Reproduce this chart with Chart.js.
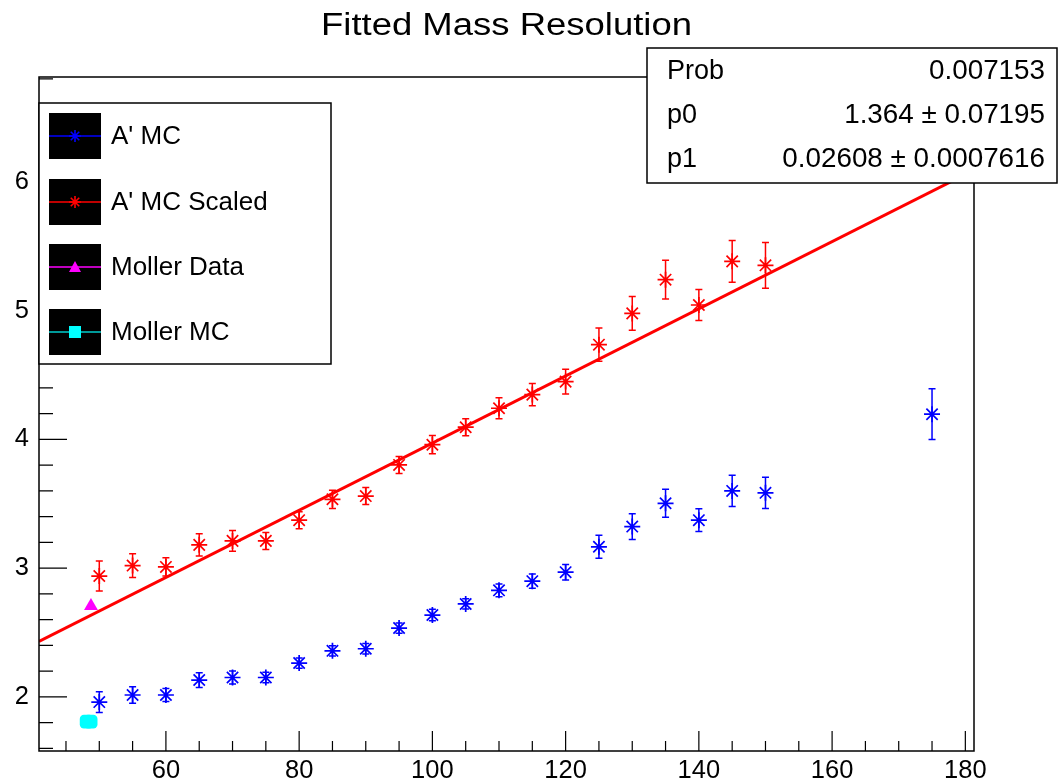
<!DOCTYPE html>
<html>
<head>
<meta charset="utf-8">
<title>Fitted Mass Resolution</title>
<script src="https://cdn.jsdelivr.net/npm/chart.js@4.4.1/dist/chart.umd.min.js"></script>
<style>
  html, body { margin: 0; padding: 0; background: #fff; }
  #wrap { width: 1061px; height: 784px; }
</style>
</head>
<body>
<div id="wrap"><canvas id="massChart" width="1061" height="784"></canvas></div>
<script>
// A' MC points (mass, fitted resolution, error)
const mcMass = [50, 55, 60, 65, 70, 75, 80, 85, 90, 95, 100, 105, 110, 115, 120, 125, 130, 135, 140, 145, 150, 175];
const mcRes = [1.96, 2.015, 2.015, 2.131, 2.151, 2.151, 2.263, 2.358, 2.374, 2.535, 2.636, 2.722, 2.828, 2.899, 2.969, 3.166, 3.323, 3.504, 3.373, 3.6, 3.585, 4.196];
const mcErr = [0.08, 0.065, 0.05, 0.057, 0.05, 0.04, 0.04, 0.04, 0.04, 0.04, 0.045, 0.04, 0.05, 0.055, 0.06, 0.089, 0.1, 0.109, 0.089, 0.121, 0.121, 0.197];

// A' MC scaled points
const scaledMass = [50, 55, 60, 65, 70, 75, 80, 85, 90, 95, 100, 105, 110, 115, 120, 125, 130, 135, 140, 145, 150];
const scaledRes = [2.939, 3.02, 3.01, 3.181, 3.212, 3.212, 3.373, 3.535, 3.56, 3.802, 3.959, 4.095, 4.242, 4.348, 4.449, 4.736, 4.979, 5.241, 5.044, 5.383, 5.352];
const scaledErr = [0.116, 0.093, 0.071, 0.086, 0.081, 0.066, 0.066, 0.071, 0.066, 0.066, 0.071, 0.066, 0.081, 0.086, 0.097, 0.129, 0.131, 0.151, 0.121, 0.162, 0.177];

// Moller points
const mollerDataMass = [48.75];
const mollerDataRes = [2.707];
const mollerMcMass = [48.1, 48.7];
const mollerMcRes = [1.808, 1.808];

// linear fit drawn across the frame
const fitMass = [40.95, 181.3];
const fitRes = [2.432, 6.092];

// axis ticks
const xTickValues = [60, 80, 100, 120, 140, 160, 180];
const yTickValues = [2, 3, 4, 5, 6];

// stats box rows
const statLabels = ['Prob', 'p0', 'p1'];
const statValues = ['0.007153', '1.364 \u00b1 0.07195', '0.02608 \u00b1 0.0007616'];

const legendLabels = ["A' MC", "A' MC Scaled", 'Moller Data', 'Moller MC'];

const FONT = "'Liberation Sans', Helvetica, Arial, sans-serif";

const toPoints = (xs, ys) => xs.map((x, i) => ({ x: x, y: ys[i] }));

// draws an asterisk like ROOT marker 3
function drawStar(ctx, x, y, r, color) {
    ctx.save();
    ctx.strokeStyle = color;
    ctx.lineWidth = 1.6;
    ctx.beginPath();
    for (let a = 0; a < 4; a++) {
        const ang = a * Math.PI / 4;
        ctx.moveTo(x - r * Math.cos(ang), y - r * Math.sin(ang));
        ctx.lineTo(x + r * Math.cos(ang), y + r * Math.sin(ang));
    }
    ctx.stroke();
    ctx.restore();
}

// text with a horizontal scale factor
function scaledText(ctx, text, x, y, align, sx) {
    const w = ctx.measureText(text).width * sx;
    let left = x;
    if (align === 'center') left = x - w / 2;
    if (align === 'right') left = x - w;
    ctx.save();
    ctx.textAlign = 'left';
    ctx.translate(left, y);
    ctx.scale(sx, 1);
    ctx.fillText(text, 0, 0);
    ctx.restore();
}

// error bars with small caps
const errorBarPlugin = {
    id: 'errorBars',
    beforeDatasetsDraw(chart) {
        const ctx = chart.ctx;
        const xs = chart.scales.x, ys = chart.scales.y;
        const sets = [
            { m: mcMass, v: mcRes, e: mcErr, c: '#0000ff' },
            { m: scaledMass, v: scaledRes, e: scaledErr, c: '#ff0000' }
        ];
        ctx.save();
        sets.forEach(s => {
            ctx.strokeStyle = s.c;
            ctx.lineWidth = 1.5;
            s.m.forEach((m, i) => {
                const px = xs.getPixelForValue(m);
                const top = ys.getPixelForValue(s.v[i] + s.e[i]);
                const bot = ys.getPixelForValue(s.v[i] - s.e[i]);
                ctx.beginPath();
                ctx.moveTo(px, top); ctx.lineTo(px, bot);
                ctx.moveTo(px - 3.5, top); ctx.lineTo(px + 3.5, top);
                ctx.moveTo(px - 3.5, bot); ctx.lineTo(px + 3.5, bot);
                ctx.stroke();
            });
        });
        ctx.restore();
    }
};

// frame, inside ticks, tick labels, title, legend and stats box
const decorPlugin = {
    id: 'decor',
    afterDraw(chart) {
        const ctx = chart.ctx;
        const area = chart.chartArea;
        const xs = chart.scales.x, ys = chart.scales.y;
        ctx.save();

        // frame
        ctx.strokeStyle = '#000';
        ctx.lineWidth = 1.5;
        ctx.strokeRect(area.left, area.top, area.right - area.left, area.bottom - area.top);

        // x ticks, pointing up from the bottom
        ctx.lineWidth = 1.2;
        ctx.beginPath();
        for (let v = 45; v <= 180; v += 5) {
            const px = xs.getPixelForValue(v);
            const len = v % 20 === 0 ? 20 : 10;
            ctx.moveTo(px, area.bottom);
            ctx.lineTo(px, area.bottom - len);
        }
        // y ticks, pointing right from the left edge
        for (let k = 8; k <= 34; k++) {
            const v = k / 5;
            const py = ys.getPixelForValue(v);
            const len = k % 5 === 0 ? 28 : 14;
            ctx.moveTo(area.left, py);
            ctx.lineTo(area.left + len, py);
        }
        ctx.stroke();

        // tick labels
        ctx.fillStyle = '#000';
        ctx.font = '25px ' + FONT;
        ctx.textBaseline = 'middle';
        xTickValues.forEach(v => {
            scaledText(ctx, String(v), xs.getPixelForValue(v), 771, 'center', 1.02);
        });
        yTickValues.forEach(v => {
            scaledText(ctx, String(v), 29, ys.getPixelForValue(v), 'right', 1.02);
        });

        // title
        ctx.font = '31px ' + FONT;
        ctx.textBaseline = 'alphabetic';
        const title = 'Fitted Mass Resolution';
        const tw = ctx.measureText(title).width;
        scaledText(ctx, title, 321, 35, 'left', 371 / tw);

        // legend box
        ctx.fillStyle = '#fff';
        ctx.fillRect(39, 103, 292, 261);
        ctx.strokeStyle = '#000';
        ctx.lineWidth = 1.5;
        ctx.strokeRect(39, 103, 292, 261);
        const rowsY = [136, 202, 267, 332];
        const colors = ['#0000ff', '#ff0000', '#ff00ff', '#00cccc'];
        rowsY.forEach((y, i) => {
            ctx.fillStyle = '#000';
            ctx.fillRect(49, y - 23, 52, 46);
            ctx.strokeStyle = colors[i];
            ctx.lineWidth = 1.5;
            ctx.beginPath();
            ctx.moveTo(49, y); ctx.lineTo(101, y);
            ctx.stroke();
            if (i < 2) {
                drawStar(ctx, 75, y, 6, colors[i]);
            } else if (i === 2) {
                ctx.fillStyle = '#ff00ff';
                ctx.beginPath();
                ctx.moveTo(75, y - 6); ctx.lineTo(81, y + 5); ctx.lineTo(69, y + 5);
                ctx.closePath();
                ctx.fill();
            } else {
                ctx.fillStyle = '#00ffff';
                ctx.fillRect(69, y - 6, 12, 12);
            }
            ctx.fillStyle = '#000';
            ctx.font = '26px ' + FONT;
            ctx.textBaseline = 'middle';
            ctx.textAlign = 'left';
            ctx.fillText(legendLabels[i], 111, y + 1);
        });

        // stats box
        ctx.fillStyle = '#fff';
        ctx.fillRect(647, 48, 410, 135);
        ctx.strokeStyle = '#000';
        ctx.lineWidth = 1.5;
        ctx.strokeRect(647, 48, 410, 135);
        const statY = [72, 116, 160];
        ctx.fillStyle = '#000';
        ctx.font = '27px ' + FONT;
        ctx.textBaseline = 'middle';
        statY.forEach((y, i) => {
            ctx.textAlign = 'left';
            ctx.fillText(statLabels[i], 667, y);
            ctx.textAlign = 'right';
            scaledText(ctx, statValues[i], 1045, y, 'right', 1.03);
        });

        ctx.restore();
    }
};

const ctx = document.getElementById('massChart').getContext('2d');
const chart = new Chart(ctx, {
    type: 'scatter',
    data: {
        datasets: [
            {
                label: "A' MC",
                data: toPoints(mcMass, mcRes),
                pointStyle: 'star',
                pointRadius: 8,
                pointBorderWidth: 1.7,
                borderColor: '#0000ff',
                backgroundColor: '#0000ff'
            },
            {
                label: "A' MC Scaled",
                data: toPoints(scaledMass, scaledRes),
                pointStyle: 'star',
                pointRadius: 8,
                pointBorderWidth: 1.7,
                borderColor: '#ff0000',
                backgroundColor: '#ff0000'
            },
            {
                label: 'Moller Data',
                data: toPoints(mollerDataMass, mollerDataRes),
                pointStyle: 'triangle',
                pointRadius: 8,
                borderWidth: 0,
                borderColor: '#ff00ff',
                backgroundColor: '#ff00ff'
            },
            {
                label: 'Moller MC',
                data: toPoints(mollerMcMass, mollerMcRes),
                pointStyle: 'rectRounded',
                pointRadius: 8,
                borderWidth: 0,
                borderColor: '#00ffff',
                backgroundColor: '#00ffff'
            },
            {
                label: 'Fit',
                data: toPoints(fitMass, fitRes),
                showLine: true,
                pointRadius: 0,
                borderColor: '#ff0000',
                borderWidth: 3,
                fill: false
            }
        ]
    },
    options: {
        responsive: false,
        animation: false,
        events: [],
        layout: { padding: { top: 77, right: 87, left: 0, bottom: 0 } },
        plugins: {
            legend: { display: false },
            title: { display: false },
            tooltip: { enabled: false }
        },
        scales: {
            x: {
                type: 'linear',
                min: 40.95,
                max: 181.3,
                grid: { display: false, drawTicks: false },
                border: { display: false },
                afterFit(scale) { scale.height = 33; },
                afterBuildTicks(scale) { scale.ticks = xTickValues.map(v => ({ value: v })); },
                ticks: { display: false }
            },
            y: {
                type: 'linear',
                min: 1.58,
                max: 6.815,
                grid: { display: false, drawTicks: false },
                border: { display: false },
                afterFit(scale) { scale.width = 39; },
                afterBuildTicks(scale) { scale.ticks = yTickValues.map(v => ({ value: v })); },
                ticks: { display: false }
            }
        }
    },
    plugins: [errorBarPlugin, decorPlugin]
});
</script>
</body>
</html>
